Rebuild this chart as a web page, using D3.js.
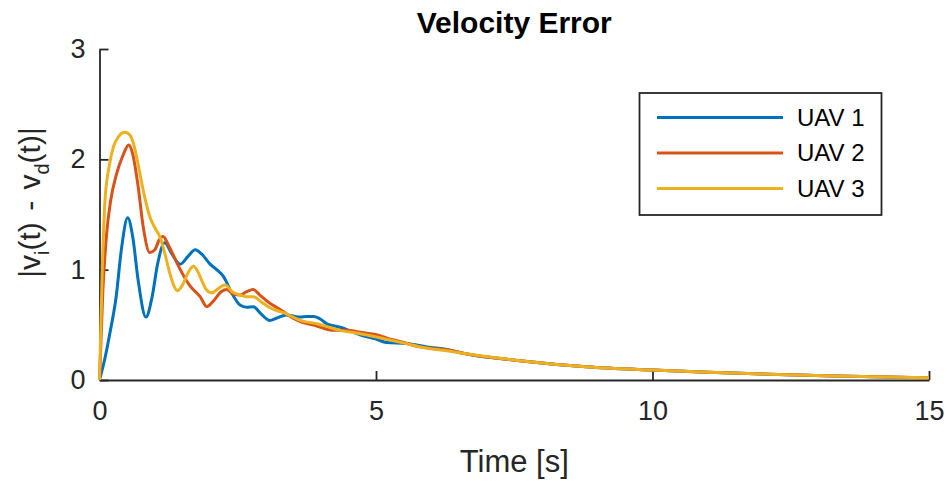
<!DOCTYPE html>
<html>
<head>
<meta charset="utf-8">
<script src="https://cdn.jsdelivr.net/npm/d3@7"></script>
<style>
  body { margin: 0; background: #fff; }
  svg { display: block; font-family: "Liberation Sans", Arial, sans-serif; }
</style>
</head>
<body>
<svg width="947" height="481"></svg>
<script>
// data: [time (s), |v_i - v_d|]
const uav1 = [
  [0, 0], [0.1, 0.2], [0.19, 0.43], [0.3, 0.75], [0.4, 1.2], [0.51, 1.47],
  [0.6, 1.3], [0.7, 0.9], [0.84, 0.57], [0.95, 0.75], [1.05, 1.05], [1.18, 1.245],
  [1.3, 1.15], [1.46, 1.05], [1.6, 1.12], [1.73, 1.18], [1.85, 1.14], [2.0, 1.05],
  [2.12, 1.0], [2.24, 0.94], [2.4, 0.78], [2.54, 0.68], [2.66, 0.66], [2.78, 0.665],
  [2.92, 0.6], [3.08, 0.54], [3.2, 0.56], [3.38, 0.59], [3.5, 0.58], [3.63, 0.57],
  [3.75, 0.575], [3.87, 0.575], [4.0, 0.55], [4.11, 0.51], [4.25, 0.49], [4.41, 0.47],
  [4.55, 0.44], [4.71, 0.41], [5.0, 0.37], [5.19, 0.34], [5.55, 0.33], [5.92, 0.3],
  [6.34, 0.27], [6.6, 0.24], [7.6, 0.175], [8.8, 0.12], [10, 0.09], [11, 0.07],
  [12.1, 0.052], [13.3, 0.036], [14, 0.03], [15, 0.02]
];
const uav2 = [
  [0, 0], [0.06, 0.8], [0.13, 1.33], [0.2, 1.62], [0.31, 1.87], [0.42, 2.03],
  [0.53, 2.13], [0.6, 2.05], [0.7, 1.75], [0.79, 1.39], [0.91, 1.155], [1.0, 1.18],
  [1.08, 1.27], [1.15, 1.3], [1.25, 1.22], [1.43, 1.03], [1.64, 0.85], [1.82, 0.755],
  [1.94, 0.665], [2.05, 0.71], [2.2, 0.8], [2.3, 0.82], [2.42, 0.78], [2.54, 0.77],
  [2.66, 0.8], [2.78, 0.82], [2.9, 0.77], [3.08, 0.695], [3.2, 0.66], [3.38, 0.6],
  [3.5, 0.56], [3.63, 0.53], [3.93, 0.49], [4.23, 0.45], [4.47, 0.45], [4.75, 0.43],
  [5.01, 0.41], [5.2, 0.38], [5.43, 0.35], [5.8, 0.3], [6.34, 0.27], [6.6, 0.24],
  [7.6, 0.175], [8.8, 0.12], [10, 0.09], [11, 0.07], [12.1, 0.052], [13.3, 0.036],
  [15, 0.02]
];
const uav3 = [
  [0, 0], [0.05, 1.0], [0.1, 1.63], [0.18, 1.95], [0.25, 2.11], [0.35, 2.21],
  [0.46, 2.245], [0.55, 2.22], [0.61, 2.15], [0.7, 1.95], [0.79, 1.72], [0.91, 1.48],
  [1.0, 1.38], [1.09, 1.3], [1.18, 1.15], [1.27, 0.97], [1.34, 0.86], [1.41, 0.81],
  [1.5, 0.86], [1.6, 0.97], [1.7, 1.03], [1.78, 0.98], [1.85, 0.9], [1.93, 0.82],
  [2.03, 0.79], [2.15, 0.83], [2.27, 0.86], [2.4, 0.8], [2.54, 0.77], [2.66, 0.755],
  [2.78, 0.755], [2.92, 0.71], [3.08, 0.655], [3.2, 0.63], [3.38, 0.6], [3.5, 0.57],
  [3.63, 0.54], [3.93, 0.51], [4.35, 0.45], [4.71, 0.42], [5.19, 0.37], [5.55, 0.33],
  [5.9, 0.29], [6.34, 0.26], [6.6, 0.24], [7.6, 0.175], [8.8, 0.12], [10, 0.09],
  [11, 0.07], [12.1, 0.052], [13.3, 0.036], [15, 0.02]
];
const seriesNames = ['UAV 1', 'UAV 2', 'UAV 3'];
const seriesColors = ['#0072BD', '#D95319', '#EDB120'];
const xTicks = [0, 5, 10, 15];
const yTicks = [0, 1, 2, 3];

const LEFT = 99.5, RIGHT = 929, TOP = 49, BOTTOM = 380;
const AXIS_COLOR = '#262626';

const svg = d3.select('svg');

const x = d3.scaleLinear().domain([0, 15]).range([LEFT, RIGHT]);
const y = d3.scaleLinear().domain([0, 3]).range([BOTTOM, TOP]);

// axes, ticks pointing inward like matlab
const xAxis = svg.append('g')
  .attr('transform', `translate(0,${BOTTOM})`)
  .call(d3.axisBottom(x).tickValues(xTicks).tickFormat(d3.format('d'))
    .tickSize(-9).tickSizeOuter(0).tickPadding(21));
const yAxis = svg.append('g')
  .attr('transform', `translate(${LEFT},0)`)
  .call(d3.axisLeft(y).tickValues(yTicks).tickFormat(d3.format('d'))
    .tickSize(-9).tickSizeOuter(0).tickPadding(14));

[xAxis, yAxis].forEach(a => {
  a.select('.domain').attr('stroke', AXIS_COLOR).attr('stroke-width', 1.8);
  a.selectAll('.tick line').attr('stroke', AXIS_COLOR).attr('stroke-width', 1.8);
  a.selectAll('.tick text')
    .attr('fill', AXIS_COLOR)
    .style('font-size', '27px')
    .style('font-family', '"Liberation Sans", Arial, sans-serif');
});

// lines
const line = d3.line()
  .x(d => x(d[0]))
  .y(d => y(d[1]))
  .curve(d3.curveMonotoneX);

[uav1, uav2, uav3].forEach((data, i) => {
  svg.append('path')
    .datum(data)
    .attr('fill', 'none')
    .attr('stroke', seriesColors[i])
    .attr('stroke-width', 3)
    .attr('stroke-linejoin', 'round')
    .attr('d', line);
});

// title and labels
svg.append('text')
  .attr('x', (LEFT + RIGHT) / 2)
  .attr('y', 33)
  .attr('text-anchor', 'middle')
  .style('font-size', '30px')
  .style('font-weight', 'bold')
  .attr('fill', '#000')
  .text('Velocity Error');

svg.append('text')
  .attr('x', (LEFT + RIGHT) / 2)
  .attr('y', 472)
  .attr('text-anchor', 'middle')
  .style('font-size', '31px')
  .attr('fill', AXIS_COLOR)
  .text('Time [s]');

const yLabel = svg.append('text')
  .attr('transform', `translate(40,${(TOP + BOTTOM) / 2 - 12}) rotate(-90)`)
  .attr('text-anchor', 'middle')
  .style('font-size', '30px')
  .style('word-spacing', '3px')
  .attr('fill', AXIS_COLOR);
yLabel.append('tspan').text('|v');
yLabel.append('tspan').attr('dy', 9).style('font-size', '20px').text('i');
yLabel.append('tspan').attr('dy', -9).text('(t) - v');
yLabel.append('tspan').attr('dy', 9).style('font-size', '20px').text('d');
yLabel.append('tspan').attr('dy', -9).text('(t)|');

// legend
const legend = svg.append('g');
legend.append('rect')
  .attr('x', 639.5).attr('y', 93)
  .attr('width', 242).attr('height', 122)
  .attr('fill', '#fff')
  .attr('stroke', AXIS_COLOR)
  .attr('stroke-width', 1.8);

seriesNames.forEach((name, i) => {
  const ly = 117.5 + i * 35.5;
  legend.append('line')
    .attr('x1', 657).attr('x2', 783)
    .attr('y1', ly).attr('y2', ly)
    .attr('stroke', seriesColors[i])
    .attr('stroke-width', 3);
  legend.append('text')
    .attr('x', 797).attr('y', ly)
    .attr('dy', '0.35em')
    .style('font-size', '24px')
    .attr('fill', '#000')
    .text(name);
});
</script>
</body>
</html>
